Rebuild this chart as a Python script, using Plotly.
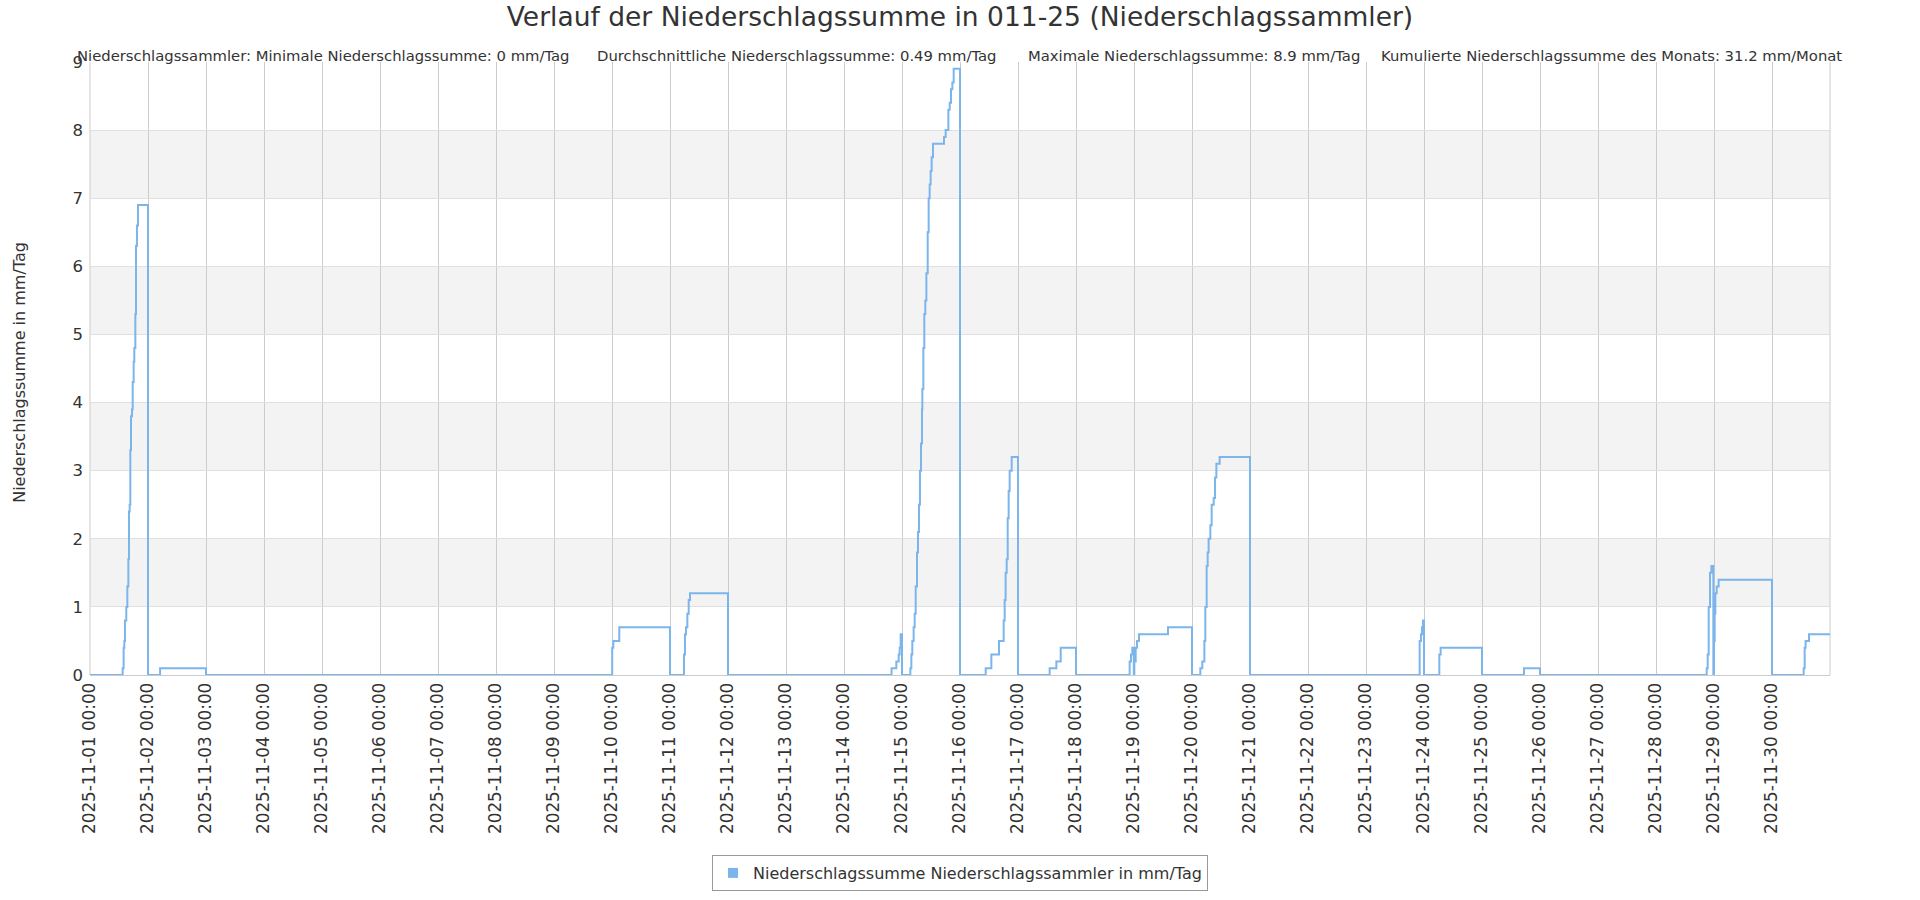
import plotly.graph_objects as go

# ---- data ----
times = [
    "2025-11-01 00:00", "2025-11-01 13:30", "2025-11-01 13:55", "2025-11-01 14:12", "2025-11-01 14:28",
    "2025-11-01 15:01", "2025-11-01 15:27", "2025-11-01 15:52", "2025-11-01 16:08", "2025-11-01 16:25",
    "2025-11-01 16:41", "2025-11-01 16:58", "2025-11-01 17:23", "2025-11-01 17:40", "2025-11-01 18:04",
    "2025-11-01 18:20", "2025-11-01 18:46", "2025-11-01 19:02", "2025-11-01 19:26", "2025-11-01 19:52",
    "2025-11-02 00:00", "2025-11-02 05:00", "2025-11-03 00:00",
    "2025-11-10 00:05", "2025-11-10 00:33", "2025-11-10 03:01", "2025-11-11 00:00",
    "2025-11-11 05:47", "2025-11-11 06:13", "2025-11-11 06:37", "2025-11-11 07:11", "2025-11-11 07:44",
    "2025-11-11 08:17", "2025-11-12 00:00",
    "2025-11-14 19:41", "2025-11-14 21:39", "2025-11-14 22:38", "2025-11-14 23:02", "2025-11-14 23:27",
    "2025-11-15 00:00",
    "2025-11-15 03:27", "2025-11-15 03:52", "2025-11-15 04:16", "2025-11-15 04:49", "2025-11-15 05:14",
    "2025-11-15 05:40", "2025-11-15 06:13", "2025-11-15 06:37", "2025-11-15 07:02", "2025-11-15 07:26",
    "2025-11-15 07:52", "2025-11-15 08:17", "2025-11-15 08:25", "2025-11-15 08:50", "2025-11-15 09:14",
    "2025-11-15 09:39", "2025-11-15 10:05", "2025-11-15 10:38", "2025-11-15 11:02", "2025-11-15 11:27",
    "2025-11-15 11:51", "2025-11-15 12:16", "2025-11-15 12:49", "2025-11-15 17:23", "2025-11-15 18:04",
    "2025-11-15 19:11", "2025-11-15 19:44", "2025-11-15 20:17", "2025-11-15 20:50", "2025-11-15 21:23",
    "2025-11-16 00:00",
    "2025-11-16 10:38", "2025-11-16 12:58", "2025-11-16 16:08", "2025-11-16 18:04", "2025-11-16 18:29",
    "2025-11-16 18:53", "2025-11-16 19:19", "2025-11-16 19:44", "2025-11-16 20:08", "2025-11-16 20:33",
    "2025-11-16 21:23", "2025-11-17 00:00",
    "2025-11-17 13:06", "2025-11-17 15:52", "2025-11-17 17:40", "2025-11-18 00:00",
    "2025-11-18 22:12", "2025-11-18 22:45", "2025-11-18 23:18", "2025-11-18 23:55",
    "2025-11-19 00:08", "2025-11-19 00:42", "2025-11-19 01:15", "2025-11-19 02:04", "2025-11-19 14:04",
    "2025-11-20 00:00",
    "2025-11-20 03:27", "2025-11-20 04:16", "2025-11-20 05:07", "2025-11-20 05:31", "2025-11-20 06:04",
    "2025-11-20 06:29", "2025-11-20 06:53", "2025-11-20 07:35", "2025-11-20 08:08", "2025-11-20 08:59",
    "2025-11-20 09:32", "2025-11-20 10:05", "2025-11-20 11:27", "2025-11-21 00:00",
    "2025-11-23 22:12", "2025-11-23 22:45", "2025-11-23 23:11", "2025-11-23 23:36", "2025-11-24 00:00",
    "2025-11-24 06:20", "2025-11-24 06:53", "2025-11-25 00:00",
    "2025-11-25 17:23", "2025-11-26 00:00",
    "2025-11-28 20:59", "2025-11-28 21:23", "2025-11-28 21:48", "2025-11-28 22:21", "2025-11-28 22:54",
    "2025-11-28 23:44",
    "2025-11-29 00:00", "2025-11-29 00:16", "2025-11-29 00:33", "2025-11-29 01:06", "2025-11-29 01:55",
    "2025-11-30 00:00",
    "2025-11-30 13:06", "2025-11-30 13:31", "2025-11-30 13:55", "2025-11-30 15:19", "2025-12-01 00:00",
]
values = [
    0, 0.1, 0.4, 0.5, 0.8,
    1.0, 1.3, 1.7, 2.4, 2.5,
    3.3, 3.8, 3.9, 4.3, 4.6,
    4.8, 5.3, 6.3, 6.6, 6.9,
    0, 0.1, 0,
    0.4, 0.5, 0.7, 0,
    0.3, 0.6, 0.7, 0.9, 1.1,
    1.2, 0,
    0.1, 0.2, 0.3, 0.4, 0.6,
    0,
    0.1, 0.3, 0.5, 0.7, 0.9,
    1.3, 1.8, 2.1, 2.5, 3.0,
    3.4, 3.9, 4.2, 4.8, 5.3,
    5.5, 5.9, 6.5, 7.0, 7.2,
    7.4, 7.6, 7.8, 7.9, 8.0,
    8.3, 8.4, 8.6, 8.7, 8.9,
    0,
    0.1, 0.3, 0.5, 0.8, 1.1,
    1.5, 1.7, 2.3, 2.7, 3.0,
    3.2, 0,
    0.1, 0.2, 0.4, 0,
    0.2, 0.3, 0.4, 0,
    0.2, 0.4, 0.5, 0.6, 0.7,
    0,
    0.1, 0.2, 0.5, 1.0, 1.6,
    1.8, 2.0, 2.2, 2.5, 2.6,
    2.9, 3.1, 3.2, 0,
    0.5, 0.6, 0.7, 0.8, 0,
    0.3, 0.4, 0,
    0.1, 0,
    0.1, 0.3, 1.0, 1.5, 1.6,
    0,
    0.5, 0.9, 1.2, 1.3, 1.4,
    0,
    0.1, 0.4, 0.5, 0.6, 0.6,
]

day_ticks = ["2025-11-%02d" % d for d in range(1, 31)]
day_labels = ["2025-11-%02d 00:00" % d for d in range(1, 31)]
y_ticks = list(range(0, 10))
bands = [(1, 2), (3, 4), (5, 6), (7, 8)]

title_text = "Verlauf der Niederschlagssumme in 011-25 (Niederschlagssammler)"
stats_texts = [
    "Niederschlagssammler: Minimale Niederschlagssumme: 0 mm/Tag",
    "Durchschnittliche Niederschlagssumme: 0.49 mm/Tag",
    "Maximale Niederschlagssumme: 8.9 mm/Tag",
    "Kumulierte Niederschlagssumme des Monats: 31.2 mm/Monat",
]
stats_x = [-0.0085, 0.290, 0.538, 0.741]
series_name = "Niederschlagssumme Niederschlagssammler in mm/Tag"
y_title = "Niederschlagssumme in mm/Tag"

LINE = "#7cb5ec"
FONT = "DejaVu Sans"

fig = go.Figure()
fig.add_trace(go.Scatter(
    x=times, y=values, mode="lines", line=dict(color=LINE, width=2, shape="hv"),
    showlegend=False, name=series_name,
))
fig.add_trace(go.Scatter(
    x=[None], y=[None], mode="markers", name=series_name,
    marker=dict(symbol="square", color=LINE, size=10), showlegend=True,
))

shapes = []
for lo, hi in bands:
    shapes.append(dict(type="rect", xref="paper", yref="y", x0=0, x1=1, y0=lo, y1=hi,
                       fillcolor="#f3f3f3", line=dict(width=0), layer="below"))
for xp in (0, 1):
    shapes.append(dict(type="line", xref="paper", yref="paper", x0=xp, x1=xp, y0=0, y1=1,
                       line=dict(color="#cccccc", width=1), layer="below"))

annotations = []
for t, xp in zip(stats_texts, stats_x):
    annotations.append(dict(text=t, xref="paper", yref="paper", x=xp, y=1.0114,
                            xanchor="left", yanchor="middle", showarrow=False,
                            font=dict(family=FONT, size=14.8, color="#333333")))
annotations.append(dict(text=y_title, xref="paper", yref="paper", x=-0.0402, y=0.493,
                        xanchor="center", yanchor="middle", textangle=-90, showarrow=False,
                        font=dict(family=FONT, size=16, color="#333333")))

fig.update_layout(
    width=1920, height=900,
    margin=dict(l=89.5, r=89.5, t=62.4, b=225.3, autoexpand=False),
    paper_bgcolor="white", plot_bgcolor="white",
    font=dict(family=FONT, color="#333333"),
    title=dict(text=title_text, x=0.5, xanchor="center", y=0.981, yanchor="middle",
               yref="container", font=dict(family=FONT, size=26.5, color="#333333")),
    shapes=shapes, annotations=annotations,
    legend=dict(orientation="h", x=0.5, xanchor="center", y=0.05, yanchor="top",
                yref="container",
                bordercolor="#999999", borderwidth=1, bgcolor="white",
                font=dict(family=FONT, size=16, color="#333333")),
    xaxis=dict(type="date", range=["2025-11-01 00:00", "2025-12-01 00:00"],
               tickvals=day_ticks, ticktext=day_labels, tickangle=-90, automargin=False,
               showgrid=True, gridcolor="#cccccc", gridwidth=1,
               showline=True, linecolor="#cccccc", linewidth=1, ticks="",
               tickfont=dict(family=FONT, size=16.8, color="#333333"), zeroline=False),
    yaxis=dict(range=[0, 9], tickvals=y_ticks, showgrid=True, gridcolor="#e0e0e0", gridwidth=1,
               zeroline=False, showline=False, ticks="", ticklabelstandoff=6, automargin=False,
               tickfont=dict(family=FONT, size=16.5, color="#333333")),
)

fig.write_html("out.html", config={"displayModeBar": False},
               post_script="document.body.style.margin='0';document.body.style.overflow='hidden';")
